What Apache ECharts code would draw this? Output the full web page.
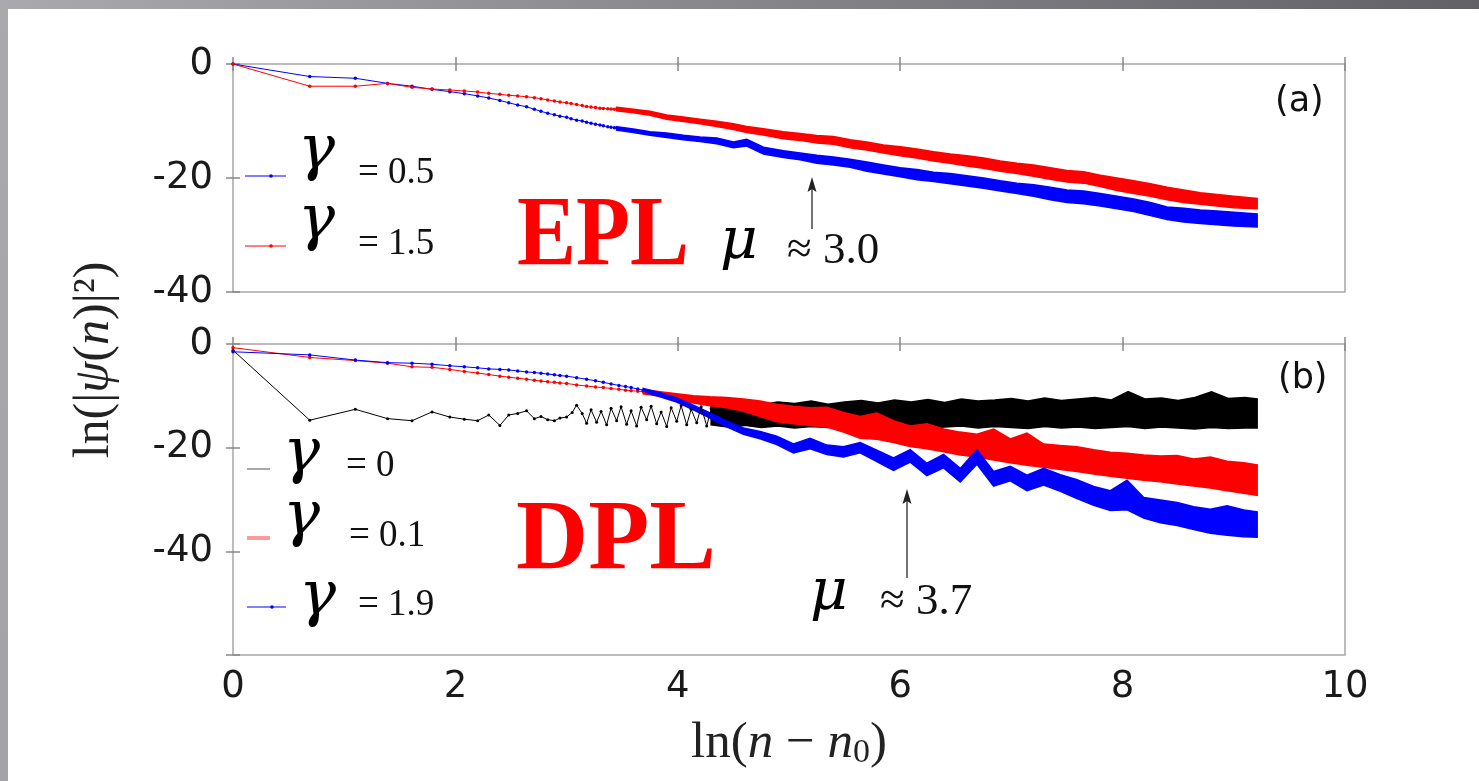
<!DOCTYPE html>
<html lang="en">
<head>
<meta charset="utf-8">
<title>ln|psi(n)|^2 vs ln(n-n0)</title>
<script src="https://cdn.jsdelivr.net/npm/echarts@6.0.0/dist/echarts.min.js"></script>
<style>
  html, body { margin: 0; padding: 0; width: 1479px; height: 781px; overflow: hidden;
    background: linear-gradient(100deg, #a9a9ae 0%, #7f7f84 55%, #5a5a5f 100%); }
  #sheet { position: absolute; left: 8px; top: 9px; width: 1471px; height: 772px; background: #fff; }
  #chart { position: absolute; left: 0; top: 0; width: 1479px; height: 781px; }
</style>
</head>
<body>
<div id="sheet"></div>
<div id="chart"></div>
<script>
// ---- panel (a): first sites, drawn as a thin line with dots ----
var lnN_a = [0, 0.69, 1.10, 1.39, 1.61, 1.79, 1.95, 2.08, 2.20, 2.30, 2.40, 2.48, 2.56, 2.64, 2.71, 2.77,
  2.83, 2.89, 2.94, 3.00, 3.04, 3.09, 3.14, 3.18, 3.22, 3.26, 3.30, 3.33, 3.37, 3.40, 3.43, 3.47];
var a05_y = [0, -2.2, -2.5, -3.4, -3.9, -4.45, -4.85, -5.2, -5.6, -5.96, -6.4, -6.8, -7.2, -7.5, -7.95, -8.3,
  -8.65, -8.9, -9.15, -9.35, -9.6, -9.85, -10.0, -10.2, -10.4, -10.55, -10.7, -10.85, -11.0, -11.1, -11.2, -11.3];
var a15_y = [0, -3.9, -3.9, -3.4, -4.1, -4.39, -4.56, -4.74, -4.91, -5.15, -5.32, -5.5, -5.6, -5.75, -5.9, -6.1,
  -6.3, -6.5, -6.65, -6.8, -6.95, -7.1, -7.3, -7.45, -7.55, -7.65, -7.75, -7.8, -7.85, -7.9, -7.95, -7.95];

// ---- panel (a): noisy part, upper / lower edge of the trace ----
var a_bandX = [3.45, 3.6, 3.75, 3.9, 4.05, 4.2, 4.35, 4.5, 4.62, 4.77, 4.95, 5.1, 5.25, 5.4, 5.55, 5.7, 5.85, 6.0,
  6.15, 6.3, 6.45, 6.6, 6.75, 6.9, 7.05, 7.2, 7.35, 7.5, 7.65, 7.8, 7.95, 8.1, 8.25, 8.4, 8.55, 8.7, 8.85, 9.0, 9.21];
var a05_hi = [-11.0, -11.4, -11.9, -12.1, -12.5, -12.8, -13.0, -13.7, -13.2, -14.6, -15.2, -15.6, -16.0, -16.3, -16.7,
  -17.2, -17.7, -18.2, -18.5, -19.0, -19.2, -19.6, -20.0, -20.5, -20.9, -21.2, -21.6, -22.1, -22.3, -22.7, -23.2,
  -23.7, -24.3, -25.1, -25.3, -25.6, -25.8, -26.0, -26.3];
var a05_lo = [-11.6, -12.0, -12.5, -12.9, -13.3, -13.6, -14.0, -14.7, -14.4, -15.8, -16.4, -16.8, -17.4, -17.7, -18.1,
  -18.8, -19.3, -19.8, -20.3, -20.6, -21.0, -21.4, -21.8, -22.3, -22.7, -23.2, -23.8, -24.3, -24.5, -24.9, -25.4,
  -25.9, -26.6, -27.3, -27.7, -28.0, -28.2, -28.4, -28.6];
var a15_hi = [-7.6, -7.95, -8.3, -8.95, -9.3, -9.7, -10.05, -10.5, -10.95, -11.35, -11.9, -12.2, -12.55, -12.7, -13.3,
  -13.7, -14.2, -14.5, -14.9, -15.4, -15.8, -16.1, -16.5, -17.0, -17.4, -17.7, -18.2, -18.7, -18.9, -19.5, -20.0,
  -20.5, -21.0, -21.6, -22.1, -22.6, -22.9, -23.2, -23.6];
var a15_lo = [-8.2, -8.55, -9.0, -9.7, -10.1, -10.5, -10.95, -11.5, -12.0, -12.45, -13.1, -13.4, -13.85, -14.1, -14.7,
  -15.1, -15.6, -16.1, -16.5, -17.0, -17.4, -17.9, -18.3, -18.8, -19.2, -19.7, -20.2, -20.7, -20.9, -21.5, -22.2,
  -22.7, -23.2, -23.8, -24.3, -24.6, -24.9, -25.2, -25.4];

// ---- panel (b): first sites ----
var lnN_b = [0, 0.69, 1.10, 1.39, 1.61, 1.79, 1.95, 2.08, 2.20, 2.30, 2.40, 2.48, 2.56, 2.64, 2.71, 2.77,
  2.83, 2.89, 2.94, 3.00, 3.09, 3.18, 3.26, 3.33, 3.40, 3.47, 3.53, 3.58, 3.64, 3.69];
var b01_y = [-0.7, -2.6, -3.2, -3.7, -4.4, -4.5, -4.9, -5.3, -5.6, -5.9, -6.2, -6.4, -6.6, -6.8, -7.0, -7.15,
  -7.3, -7.4, -7.5, -7.6, -7.9, -8.1, -8.3, -8.4, -8.6, -8.75, -8.9, -9.0, -9.1, -9.2];
var b19_y = [-1.5, -2.1, -3.1, -3.6, -3.7, -3.9, -4.2, -4.4, -4.6, -4.8, -4.9, -5.0, -5.2, -5.4, -5.5, -5.65,
  -5.8, -5.95, -6.1, -6.2, -6.5, -6.8, -7.1, -7.4, -7.7, -8.0, -8.2, -8.4, -8.7, -8.9];
var b0_x = [0, 0.69, 1.10, 1.39, 1.61, 1.79, 1.95, 2.08, 2.20, 2.30, 2.40, 2.48, 2.56, 2.64, 2.71, 2.77,
  2.83, 2.89, 2.94, 3.00, 3.05, 3.09, 3.14, 3.18, 3.22, 3.27, 3.31, 3.36, 3.40, 3.45, 3.49, 3.54, 3.58, 3.63,
  3.67, 3.72, 3.76, 3.81, 3.85, 3.90, 3.94, 3.99, 4.03, 4.08, 4.12, 4.17, 4.21, 4.26, 4.30];
var b0_y = [-1.2, -14.7, -12.6, -14.4, -14.8, -13.1, -14.1, -14.5, -14.8, -13.7, -15.7, -13.7, -13.4, -12.9, -14.4, -14.0,
  -14.6, -14.8, -14.3, -14.1, -13.2, -11.8, -13.4, -15.3, -12.7, -15.1, -13.0, -15.6, -12.4, -14.8, -12.1, -15.5,
  -12.9, -15.8, -12.2, -14.6, -12.0, -15.4, -13.1, -15.9, -12.3, -14.9, -11.9, -15.6, -12.6, -15.2, -12.1, -15.8, -12.5];

// ---- panel (b): noisy part, upper / lower edge ----
var b0_bandX = [4.3, 4.45, 4.6, 4.75, 4.9, 5.05, 5.2, 5.35, 5.5, 5.65, 5.8, 5.95, 6.1, 6.25, 6.4, 6.55, 6.7, 6.85,
  7.0, 7.15, 7.3, 7.45, 7.6, 7.75, 7.9, 8.05, 8.2, 8.35, 8.5, 8.65, 8.8, 8.95, 9.1, 9.21];
var b0_hi = [-12.0, -11.6, -11.4, -11.7, -11.2, -11.5, -11.0, -11.6, -11.2, -10.9, -11.4, -10.8, -11.2, -10.7, -11.3,
  -10.6, -11.0, -10.8, -10.5, -11.0, -10.4, -10.9, -10.6, -10.3, -10.8, -9.2, -10.6, -10.4, -10.9, -10.3, -9.2,
  -10.5, -10.3, -10.6];
var b0_lo = [-15.6, -16.0, -15.7, -16.1, -15.8, -16.2, -15.9, -16.1, -15.8, -16.2, -15.9, -16.1, -15.7, -16.2, -16.0,
  -15.8, -16.2, -15.9, -16.1, -16.3, -15.9, -16.2, -16.0, -16.3, -16.1, -15.9, -16.3, -16.0, -16.2, -16.4, -16.1,
  -16.3, -16.2, -16.2];
var b_bandX = [3.69, 3.84, 3.99, 4.14, 4.29, 4.44, 4.59, 4.74, 4.89, 5.04, 5.19, 5.34, 5.49, 5.64, 5.79, 5.94, 6.09,
  6.24, 6.39, 6.54, 6.69, 6.84, 6.99, 7.14, 7.29, 7.44, 7.59, 7.74, 7.89, 8.04, 8.19, 8.34, 8.49, 8.64, 8.79, 8.94,
  9.09, 9.21];
var b01_hi = [-8.8, -9.2, -9.6, -10.0, -10.2, -10.3, -10.6, -11.0, -11.6, -12.0, -12.3, -12.2, -13.2, -14.0, -13.3,
  -14.8, -15.8, -15.4, -16.4, -17.0, -17.4, -16.4, -18.3, -17.2, -19.3, -19.6, -19.8, -20.4, -20.9, -21.1, -21.4,
  -21.6, -21.5, -22.2, -21.8, -22.6, -22.9, -23.3];
var b01_lo = [-9.6, -10.1, -10.8, -11.4, -11.9, -12.3, -13.0, -14.0, -15.0, -15.4, -15.7, -16.0, -17.0, -18.2, -18.4,
  -19.0, -19.8, -20.2, -20.8, -21.4, -21.8, -22.4, -22.9, -23.4, -23.8, -24.2, -24.6, -25.1, -25.5, -25.9, -26.3,
  -26.6, -27.0, -27.4, -27.8, -28.3, -28.8, -29.2];
var b19_hi = [-8.6, -9.4, -10.4, -11.8, -13.3, -14.9, -16.2, -16.9, -17.8, -19.3, -18.2, -19.5, -19.8, -19.0, -20.5,
  -22.0, -20.4, -23.0, -21.3, -24.0, -20.4, -24.6, -23.6, -25.3, -24.0, -25.2, -26.2, -27.5, -28.3, -26.3, -29.6,
  -30.1, -30.6, -31.4, -31.9, -31.2, -32.0, -32.4];
var b19_lo = [-9.2, -10.2, -11.2, -12.7, -14.3, -16.0, -17.4, -18.3, -19.4, -21.0, -20.2, -21.3, -21.8, -21.0, -22.7,
  -24.4, -22.8, -25.4, -23.9, -26.6, -23.2, -27.4, -26.4, -28.3, -27.2, -28.4, -29.8, -31.1, -32.1, -32.0, -33.6,
  -34.5, -35.0, -35.8, -36.5, -36.9, -37.2, -37.3];

var xTicks = [0, 2, 4, 6, 8, 10];
var yTicksA = [0, -20, -40];
var yTicksB = [0, -20, -40];

var BLUE = '#0000ff', RED = '#ff0000', BLACK = '#000000';
var SANS = '"DejaVu Sans", sans-serif';
var SERIF = '"Liberation Serif", serif';
var MATH = '"DejaVu Serif", serif';

function pairs(xs, ys) {
  return xs.map(function (x, i) { return [x, ys[i]]; });
}

function dotted(xs, ys, color, ax, size) {
  return {
    type: 'line', xAxisIndex: ax, yAxisIndex: ax, data: pairs(xs, ys),
    symbol: 'circle', symbolSize: size, showSymbol: true, silent: true,
    lineStyle: { width: 1, color: color }, itemStyle: { color: color }, z: 3
  };
}

// the dense noisy tail: filled between its upper and lower edge
function band(xs, hi, lo, color, ax) {
  return {
    type: 'custom', xAxisIndex: ax, yAxisIndex: ax, silent: true, z: 3,
    data: xs.map(function (x, i) { return [x, hi[i], lo[i]]; }),
    encode: { x: 0, y: [1, 2] },
    renderItem: function (params, api) {
      if (params.dataIndexInside !== 0) return null;
      var pts = [];
      for (var i = 0; i < xs.length; i++) pts.push(api.coord([xs[i], hi[i]]));
      for (var j = xs.length - 1; j >= 0; j--) pts.push(api.coord([xs[j], lo[j]]));
      return { type: 'polygon', shape: { points: pts }, style: { fill: color, stroke: color, lineWidth: 1.5 } };
    }
  };
}

function xAxisDef(grid, pos, showLabel) {
  return {
    type: 'value', gridIndex: grid, position: pos, min: 0, max: 10, interval: 2,
    axisLine: { show: false }, splitLine: { show: false },
    axisTick: { show: true, inside: true, length: 7, lineStyle: { color: '#888', width: 1.5 } },
    axisLabel: {
      show: showLabel, margin: 14, fontSize: 37, fontFamily: SANS, color: '#1a1a1a',
      formatter: function (v) { return xTicks.indexOf(v) >= 0 ? String(v) : ''; }
    }
  };
}

function yAxisDef(grid, pos, min, ticks, showLabel) {
  return {
    type: 'value', gridIndex: grid, position: pos, min: min, max: 0, interval: 20,
    axisLine: { show: false }, splitLine: { show: false },
    axisTick: { show: true, inside: true, length: 7, lineStyle: { color: '#888', width: 1.5 } },
    axisLabel: {
      show: showLabel, margin: 20, fontSize: 37, fontFamily: SANS, color: '#1a1a1a',
      formatter: function (v) { return ticks.indexOf(v) >= 0 ? String(v) : ''; }
    }
  };
}

function txt(x, y, text, size, opts) {
  opts = opts || {};
  var el = {
    type: 'text', x: x, y: y, silent: true, z: 10,
    style: {
      text: text, fontSize: size, fontFamily: opts.family || SERIF,
      fontStyle: opts.italic ? 'italic' : 'normal', fontWeight: opts.bold ? 'bold' : 'normal',
      fill: opts.color || '#111', align: opts.align || 'left', verticalAlign: 'middle'
    }
  };
  if (opts.scaleX) { el.scaleX = opts.scaleX; }
  return el;
}

function legendIcon(x1, x2, y, color, width, dotX) {
  var els = [{ type: 'line', silent: true, z: 10, shape: { x1: x1, y1: y, x2: x2, y2: y },
    style: { stroke: color, lineWidth: width } }];
  if (dotX) els.push({ type: 'circle', silent: true, z: 10, shape: { cx: dotX, cy: y, r: 1.8 }, style: { fill: color } });
  return els;
}

function arrow(x, yTail, yTip) {
  return [
    { type: 'line', silent: true, z: 10, shape: { x1: x, y1: yTail, x2: x, y2: yTip + 12 },
      style: { stroke: '#444', lineWidth: 1.5 } },
    { type: 'polygon', silent: true, z: 10, shape: { points: [[x, yTip], [x - 4.5, yTip + 15], [x, yTip + 12], [x + 4.5, yTip + 15]] },
      style: { fill: '#222' } }
  ];
}

var gam = { italic: true, color: '#000', family: MATH };

var graphics = []
  // legend (a)
  .concat(legendIcon(245, 286, 176, BLUE, 1, 271))
  .concat(legendIcon(245, 286, 246, RED, 1, 271))
  .concat([
    txt(298, 152, 'γ', 62, gam),
    txt(358, 173, '= 0.5', 37),
    txt(298, 222, 'γ', 62, gam),
    txt(358, 244, '= 1.5', 37)
  ])
  // legend (b)
  .concat(legendIcon(247, 270, 469, '#8c8c8c', 1.5))
  .concat(legendIcon(247, 270, 538, '#ff9a9a', 4))
  .concat(legendIcon(247, 286, 607, BLUE, 1, 272))
  .concat([
    txt(283, 455, 'γ', 62, gam),
    txt(346, 466, '= 0', 37),
    txt(283, 518, 'γ', 62, gam),
    txt(349, 536, '= 0.1', 37),
    txt(299, 598, 'γ', 62, gam),
    txt(358, 605, '= 1.9', 37)
  ])
  // panel tags
  .concat([
    txt(1275, 102, '(a)', 35, { family: SANS }),
    txt(1278, 379, '(b)', 35, { family: SANS })
  ])
  // big labels and exponents
  .concat([
    txt(517, 238, 'EPL', 100, { bold: true, color: RED, scaleX: 0.885 }),
    txt(516, 542, 'DPL', 100, { bold: true, color: RED }),
    txt(720, 243, 'μ', 58, gam),
    txt(787, 251, '≈ 3.0', 45),
    txt(810, 594, 'μ', 58, gam),
    txt(880, 602, '≈ 3.7', 45)
  ])
  .concat(arrow(812, 229, 177))
  .concat(arrow(907, 578, 489))
  // y axis title, shared by both panels
  .concat([{
    type: 'text', x: 95, y: 360, rotation: Math.PI / 2, silent: true, z: 10,
    style: {
      text: 'ln(|{i|ψ}({i|n})|²)',
      fontSize: 50, fontFamily: SERIF, fill: '#222', align: 'center', verticalAlign: 'middle',
      rich: { i: { fontSize: 50, fontFamily: SERIF, fontStyle: 'italic', fill: '#222' } }
    }
  }]);

var option = {
  animation: false,
  backgroundColor: 'transparent',
  grid: [
    { left: 233, top: 64, width: 1112, height: 228, show: true, borderColor: '#a6a6a6', borderWidth: 1.5, backgroundColor: 'transparent' },
    { left: 233, top: 344, width: 1112, height: 311, show: true, borderColor: '#a6a6a6', borderWidth: 1.5, backgroundColor: 'transparent' }
  ],
  xAxis: [
    xAxisDef(0, 'bottom', false),
    xAxisDef(0, 'top', false),
    Object.assign(xAxisDef(1, 'bottom', true), {
      name: 'ln({i|n} − {i|n}{s|0})', nameLocation: 'middle', nameGap: 63,
      nameTextStyle: {
        fontSize: 51, fontFamily: SERIF, color: '#222',
        rich: {
          i: { fontSize: 51, fontFamily: SERIF, fontStyle: 'italic', color: '#222' },
          s: { fontSize: 34, fontFamily: SERIF, color: '#222', verticalAlign: 'bottom', padding: [18, 0, 0, 0] }
        }
      }
    }),
    xAxisDef(1, 'top', false)
  ],
  yAxis: [
    yAxisDef(0, 'left', -40, yTicksA, true),
    yAxisDef(0, 'right', -40, yTicksA, false),
    yAxisDef(1, 'left', -60, yTicksB, true),
    yAxisDef(1, 'right', -60, yTicksB, false)
  ],
  series: [
    dotted(lnN_a, a05_y, BLUE, 0, 3.5),
    band(a_bandX, a05_hi, a05_lo, BLUE, 0),
    dotted(lnN_a, a15_y, RED, 0, 3.5),
    band(a_bandX, a15_hi, a15_lo, RED, 0),
    dotted(b0_x, b0_y, BLACK, 2, 3),
    band(b0_bandX, b0_hi, b0_lo, BLACK, 2),
    dotted(lnN_b, b01_y, RED, 2, 3.5),
    band(b_bandX, b01_hi, b01_lo, RED, 2),
    dotted(lnN_b, b19_y, BLUE, 2, 3.5),
    band(b_bandX, b19_hi, b19_lo, BLUE, 2)
  ],
  graphic: graphics
};

var chart = echarts.init(document.getElementById('chart'), null, { renderer: 'canvas' });
chart.setOption(option);
</script>
</body>
</html>
